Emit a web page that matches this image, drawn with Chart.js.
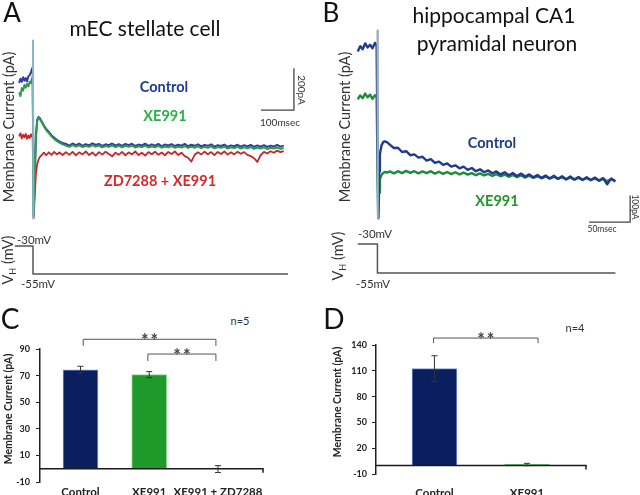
<!DOCTYPE html>
<html>
<head>
<meta charset="utf-8">
<script src="https://cdn.jsdelivr.net/npm/chart.js@4.4.1/dist/chart.umd.min.js"></script>
<style>
  html, body { margin: 0; padding: 0; background: #fff; }
  #fig { position: relative; width: 640px; height: 495px; overflow: hidden; font-family: Lato, "Open Sans", sans-serif; color: #222; }
  #fig canvas { position: absolute; }
  .t { position: absolute; white-space: nowrap; line-height: 1; }
  .t sub { font-size: 62%; vertical-align: -0.25em; }
</style>
</head>
<body>
<div id="fig">
  <canvas id="cA" width="320" height="300" style="left:0;top:0"></canvas>
  <canvas id="cB" width="320" height="300" style="left:320px;top:0"></canvas>
  <canvas id="cC" width="300" height="172" style="left:0;top:330px"></canvas>
  <canvas id="cD" width="320" height="172" style="left:320px;top:330px"></canvas>
</div>
<script>
// ---- panel A: mEC stellate cell, time from the step (ms), current (pA)
const tA = [-42, -38, -34, -30, -26, -22, -18, -14, -10, -6, -3, -1,
  2, 5, 9, 13, 17, 21, 27, 33, 40, 48, 56, 64, 72, 80, 90,
  100, 110, 120, 130, 140, 150, 160, 170, 180, 190, 200, 210, 220, 230, 240, 250, 260, 270, 280, 290,
  300, 310, 320, 330, 340, 350, 360, 370, 380, 390, 400, 410, 420, 430, 440, 450, 460, 470, 480, 490,
  500, 510, 520, 530, 540, 550, 560, 570, 580, 590, 600, 610, 620, 630, 640, 650, 660, 670, 680, 690,
  700, 710, 720, 730, 740, 750, 760];
const ctrlA = [335, 355, 340, 362, 345, 358, 342, 366, 372, 388, 402, 412,
  -300, -120, 90, 160, 172, 166, 150, 132, 116, 101, 86, 74, 64, 56, 48,
  44, 36, 46, 38, 45, 35, 43, 37, 47, 39, 44, 34, 42, 38, 46, 36, 43, 35, 44, 38,
  45, 34, 41, 37, 45, 35, 42, 36, 44, 33, 41, 37, 43, 34, 40, 36, 44, 33, 40, 35,
  42, 32, 39, 35, 42, 31, 38, 34, 41, 30, 37, 33, 40, 31, 38, 32, 39, 30, 37, 31,
  38, 30, 36, 32, 39, 31, 36];
const xeA = [290, 272, 310, 298, 325, 312, 330, 318, 340, 334, 356, 362,
  -300, -130, 80, 155, 168, 162, 146, 128, 110, 95, 80, 68, 58, 50, 42,
  36, 30, 38, 31, 37, 29, 35, 30, 38, 31, 36, 28, 34, 30, 37, 29, 35, 28, 35, 30,
  36, 27, 33, 29, 36, 27, 33, 28, 35, 26, 32, 28, 34, 26, 31, 27, 34, 25, 31, 26,
  32, 24, 30, 26, 32, 23, 29, 25, 31, 22, 28, 24, 30, 22, 28, 23, 29, 21, 27, 22,
  28, 20, 26, 22, 27, 20, 25];
const zdA = [80, 95, 70, 88, 75, 92, 68, 85, 72, 90, 78, 82,
  -310, -210, -95, -50, -30, -18, -8, 2, -10, 4, -8, 6, -6, 3, -9,
  5, -8, 6, -10, 4, -6, 8, -9, 3, -12, 5, -7, 7, -4, -15, 2, -8, 6, -10, 4,
  -6, 8, -9, 2, -12, 5, -5, 7, -8, 3, -10, 6, -4, 8, -9, 2, -14, -22, -40, -8,
  4, -6, 7, -5, 5, -9, 6, -4, 8, -7, 4, -6, 7, -3, 5, -8, -14, -24, -42, -10,
  6, -2, 9, 2, 12, 5, 10];
const stepTA = [-55, 0, 0, 773];
const stepVA = [-30, -30, -55, -55];

// ---- panel B: hippocampal CA1 pyramidal neuron
const tB = [-24, -21, -18, -15, -12, -9, -6, -3, -1,
  1, 2, 3, 5, 7, 9, 12,
  15, 20, 25, 30, 35, 40, 45, 50, 55, 60, 65, 70, 75, 80, 85, 90, 95, 100, 105, 110,
  115, 120, 125, 130, 135, 140, 145, 150, 155, 160, 165, 170, 175, 180, 185, 190, 195, 200,
  205, 210, 215, 220, 225, 230, 235, 240, 245, 250, 255, 260, 265, 270, 275, 280, 285, 290];
const ctrlB = [490, 510, 498, 520, 505, 515, 502, 522, 512,
  -135, 40, 105, 138, 150, 153, 149,
  141, 128, 129, 113, 116, 101, 104, 92, 95, 81, 86, 72, 77, 65, 70, 58, 63, 52, 58, 46,
  53, 41, 48, 37, 44, 33, 40, 29, 37, 26, 34, 23, 32, 21, 29, 18, 27, 16,
  25, 14, 24, 13, 22, 11, 21, 10, 19, 9, 18, 8, 17, 6, 15, -8, 14, 3];
const xeB = [310, 325, 315, 332, 318, 328, 312, 326, 320,
  -135, -40, 10, 28, 34, 38, 36,
  40, 33, 41, 34, 42, 35, 41, 33, 40, 34, 41, 32, 39, 31, 38, 30, 37, 29, 36, 28,
  34, 26, 33, 25, 31, 23, 30, 22, 28, 20, 27, 19, 25, 17, 24, 16, 22, 14,
  21, 13, 20, 12, 18, 10, 17, 9, 16, 8, 15, 7, 14, 5, 12, 4, 11, 3];
const stepTB = [-24, 0, 0, 290];
const stepVB = [-30, -30, -55, -55];

// scale bars: corner time, corner current, length in ms and pA
const barA = { t: 791, i: 205, dt: 100, di: 200 };
const barB = { t: 308, i: -150, dt: 50, di: 100 };

// ---- panel C and D: summary bars (mean, error)
const catsC = ['Control', 'XE991', 'XE991 + ZD7288'];
const meanC = [74.4, 70.7, -0.3];
const errC = [2.6, 2.3, 2.6];
const catsD = ['Control', 'XE991'];
const meanD = [112.5, 1.0];
const errD = [15, 1.4];

// significance brackets: from, to (category units), top, leg end (pA)
const bracketsC = [[1.04, 2.97, 97.3, 92.3], [1.98, 2.97, 86.2, 81]];
const bracketsD = [[0.99, 2.12, 148.1, 142.3]];

const pts = (ts, vs) => ts.map((t, i) => ({ x: t, y: vs[i] }));
const line = (data, color, w, axis) => ({
  data, borderColor: color, borderWidth: w, pointRadius: 0, fill: false, yAxisID: axis || 'y'
});
const scaleBar = b => line([{ x: b.t - b.dt, y: b.i }, { x: b.t, y: b.i }, { x: b.t, y: b.i + b.di }], '#444', 1.3);

function traceChart(id, xr, yr, vr, datasets) {
  return new Chart(document.getElementById(id), {
    type: 'line',
    data: { datasets },
    options: {
      responsive: false,
      animation: false,
      events: [],
      layout: { padding: 0 },
      elements: { line: { tension: 0, borderJoinStyle: 'round' } },
      plugins: { legend: { display: false }, tooltip: { enabled: false } },
      scales: {
        x: { type: 'linear', min: xr[0], max: xr[1], display: false },
        y: { min: yr[0], max: yr[1], display: false },
        yv: { min: vr[0], max: vr[1], display: false }
      }
    }
  });
}

traceChart('cA', [-100, 870], [-700, 730], [-78.2, 189.6], [
  line([{ x: 0, y: 540 }, { x: 1, y: -315 }], '#8fb3cc', 2),
  line(pts(tA, xeA), '#2e9a46', 2),
  line(pts(tA, ctrlA), '#2d3fa6', 2),
  line(pts(tA, zdA), '#c8262c', 1.8),
  line(pts(stepTA, stepVA), '#555', 1.5, 'yv'),
  scaleBar(barA)
]);

traceChart('cB', [-70, 320], [-442, 683], [-78.3, 180.3], [
  line([{ x: 0, y: 570 }, { x: 0.5, y: -135 }], '#9ab0c4', 2),
  line(pts(tB, ctrlB), '#23398f', 2.4),
  line(pts(tB, xeB), '#1f8a3a', 2.4),
  line(pts(stepTB, stepVB), '#555', 1.5, 'yv'),
  scaleBar(barB)
]);

function barExtras(means, errs, brackets) {
  return {
    id: 'barExtras',
    afterDatasetsDraw(chart) {
      const { ctx, chartArea: a, scales: { x, y } } = chart;
      ctx.save();
      ctx.strokeStyle = '#1a1a1a';
      ctx.lineWidth = 1.5;
      const y0 = y.getPixelForValue(0);
      ctx.beginPath();
      ctx.moveTo(a.left, y0);
      ctx.lineTo(a.right, y0);
      ctx.lineTo(a.right, y0 + 4);
      ctx.stroke();
      // error bars
      ctx.lineWidth = 1;
      ctx.strokeStyle = '#333';
      means.forEach((m, i) => {
        const px = x.getPixelForValue(i + 1);
        const hi = y.getPixelForValue(m + errs[i]);
        const lo = y.getPixelForValue(m - errs[i]);
        ctx.beginPath();
        ctx.moveTo(px, hi); ctx.lineTo(px, lo);
        ctx.moveTo(px - 3, hi); ctx.lineTo(px + 3, hi);
        ctx.moveTo(px - 3, lo); ctx.lineTo(px + 3, lo);
        ctx.stroke();
      });
      // brackets with stars
      ctx.strokeStyle = '#555';
      ctx.fillStyle = '#444';
      ctx.font = 'bold 18px Lato';
      ctx.letterSpacing = '2px';
      ctx.textAlign = 'center';
      brackets.forEach(([from, to, top, leg]) => {
        const x1 = x.getPixelForValue(from), x2 = x.getPixelForValue(to);
        const yt = y.getPixelForValue(top), yl = y.getPixelForValue(leg);
        ctx.beginPath();
        ctx.moveTo(x1, yl); ctx.lineTo(x1, yt); ctx.lineTo(x2, yt); ctx.lineTo(x2, yl);
        ctx.stroke();
        ctx.fillText('**', (x1 + x2) / 2 + 1, yt + 8);
      });
      ctx.restore();
    }
  };
}

function barChart(id, cats, means, errs, brackets, o) {
  return new Chart(document.getElementById(id), {
    type: 'bar',
    data: {
      datasets: [{
        data: means.map((m, i) => ({ x: i + 1, y: m })),
        backgroundColor: o.fill,
        borderColor: o.edge,
        borderWidth: 1,
        barThickness: o.thick
      }]
    },
    options: {
      responsive: false,
      animation: false,
      events: [],
      layout: { padding: o.pad },
      plugins: { legend: { display: false }, tooltip: { enabled: false } },
      scales: {
        x: {
          type: 'linear', min: o.xr[0], max: o.xr[1], offset: false,
          afterBuildTicks: s => { s.ticks = cats.map((c, i) => ({ value: i + 1 })); },
          afterFit: s => { s.height = o.xh; },
          grid: { display: false, drawTicks: false },
          border: { display: false },
          ticks: {
            callback: v => cats[v - 1], autoSkip: false, maxRotation: 0,
            padding: o.xpad, color: '#222', font: { family: 'Lato', size: 11.5, weight: 'bold' }
          }
        },
        y: {
          min: o.yr[0], max: o.yr[1],
          afterFit: s => { s.width = o.yw; },
          grid: { drawOnChartArea: false, drawTicks: true, tickLength: 4, color: '#222' },
          border: { display: true, color: '#222', width: 1.5 },
          ticks: { stepSize: o.step, padding: o.ypad, color: '#222', font: { family: 'Lato', size: 9, weight: 'bold' } }
        }
      }
    },
    plugins: [barExtras(means, errs, brackets)]
  });
}

barChart('cC', catsC, meanC, errC, bracketsC, {
  fill: ['#0b1f5e', '#1f9a2a', 'rgba(0,0,0,0)'], edge: ['#7f9bd6', '#8ed88e', 'rgba(0,0,0,0)'],
  thick: 35, pad: { top: 19, right: 37, left: 0, bottom: 0 },
  xr: [0.411, 3.655], xh: 20, xpad: 3, yr: [-10, 90], step: 20, yw: 40, ypad: 6
});

barChart('cD', catsD, meanD, errD, bracketsD, {
  fill: ['#0b1f5e', '#1f9a2a'], edge: ['#7f9bd6', '#3cb043'],
  thick: 45, pad: { top: 15, right: 54, left: 0, bottom: 0 },
  xr: [0.368, 2.638], xh: 28, xpad: 12, yr: [-10, 140], step: 30, yw: 56, ypad: 5
});

// ---- text: html, centre x, centre y, size, weight, colour, rotation
const texts = [
  ['A', 12, 12, 26, 400, '#111', 0],
  ['B', 331, 12, 26, 400, '#111', 0],
  ['C', 10, 318, 28, 400, '#111', 0],
  ['D', 334, 318, 28, 400, '#111', 0],
  ['mEC stellate cell', 145, 27, 21, 400, '#111', 0],
  ['hippocampal CA1', 494, 14, 21, 400, '#111', 0],
  ['pyramidal neuron', 497, 42, 21, 400, '#111', 0],
  ['Membrane Current (pA)', 9, 127, 14.5, 400, '#333', -90],
  ['Membrane Current (pA)', 345, 127, 14.5, 400, '#333', -90],
  ['Control', 164, 87, 14.5, 700, '#1f3c8c', 0],
  ['XE991', 165, 116, 14.5, 700, '#2bb04a', 0],
  ['ZD7288 + XE991', 160, 181, 14.5, 700, '#d22a2a', 0],
  ['Control', 492, 143, 14.5, 700, '#1f3a88', 0],
  ['XE991', 497, 201, 14.5, 700, '#1f9a2a', 0],
  ['100msec', 280, 122, 10, 400, '#333', 0],
  ['200pA', 302, 90, 10, 400, '#333', 90],
  ['50msec', 602, 229, 8.5, 400, '#333', 0],
  ['100pA', 635, 207, 8.5, 400, '#333', 90],
  ['-30mV', 34, 240, 11.5, 400, '#333', 0],
  ['-55mV', 38, 284, 11.5, 400, '#333', 0],
  ['-30mV', 375, 234, 11.5, 400, '#333', 0],
  ['-55mV', 373, 284, 11.5, 400, '#333', 0],
  ['V<sub>H</sub> (mV)', 9, 260, 14.5, 400, '#333', -90],
  ['V<sub>H</sub> (mV)', 339, 256, 14.5, 400, '#333', -90],
  ['n=5', 240, 320, 11, 400, '#333', 0],
  ['n=4', 575, 327, 11, 400, '#333', 0],
  ['Membrane Current (pA)', 8, 409, 10.5, 700, '#222', -90],
  ['Membrane Current (pA)', 337, 402, 10.5, 700, '#222', -90]
];

const fig = document.getElementById('fig');
texts.forEach(([h, x, y, s, w, c, r]) => {
  const d = document.createElement('div');
  d.className = 't';
  d.innerHTML = h;
  d.style.left = x + 'px';
  d.style.top = y + 'px';
  d.style.fontSize = s + 'px';
  d.style.fontWeight = w;
  d.style.color = c;
  d.style.transform = 'translate(-50%,-50%) rotate(' + r + 'deg)';
  fig.appendChild(d);
});
</script>
</body>
</html>
